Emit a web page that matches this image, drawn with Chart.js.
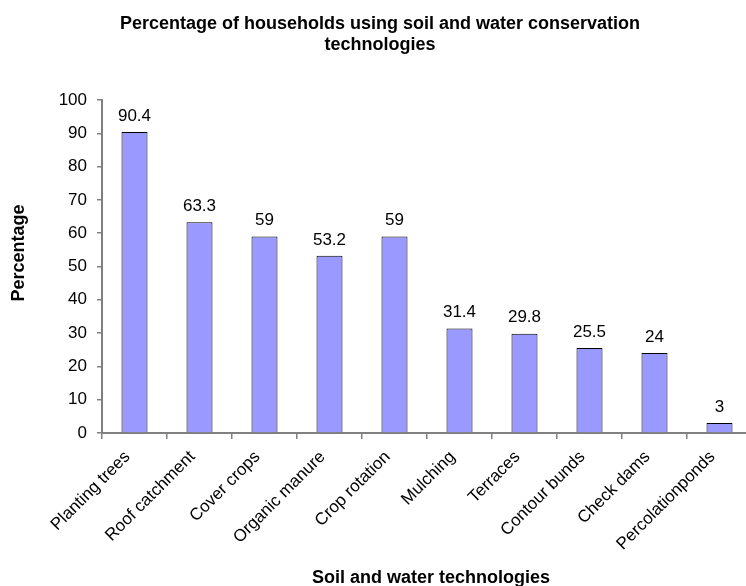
<!DOCTYPE html>
<html>
<head>
<meta charset="utf-8">
<script src="https://cdn.jsdelivr.net/npm/chart.js@4/dist/chart.umd.min.js"></script>
<style>
html,body{margin:0;padding:0;background:#fff;overflow:hidden;width:746px;height:586px;}
#wrap{width:746px;height:586px;overflow:hidden;}
canvas{display:block;}
</style>
</head>
<body>
<div id="wrap"><canvas id="c" width="752" height="586"></canvas></div>
<script>
const categories = ["Planting trees","Roof catchment","Cover crops","Organic manure","Crop rotation","Mulching","Terraces","Contour bunds","Check dams","Percolationponds"];
const values = [90.4, 63.3, 59, 53.2, 59, 31.4, 29.8, 25.5, 24, 3];
const valueLabels = ["90.4","63.3","59","53.2","59","31.4","29.8","25.5","24","3"];
const yTicks = [0,10,20,30,40,50,60,70,80,90,100];
const titleLines = ["Percentage of households using soil and water conservation", "technologies"];
const xTitle = "Soil and water technologies";
const yTitle = "Percentage";

const FONT = "'Liberation Sans', Arial, sans-serif";

const textPlugin = {
  id: 'textPlugin',
  afterDatasetsDraw(chart) {
    const ctx = chart.ctx;
    const meta = chart.getDatasetMeta(0);
    ctx.save();
    ctx.font = "17px " + FONT;
    ctx.fillStyle = "#000";
    ctx.textAlign = "center";
    ctx.textBaseline = "middle";
    meta.data.forEach((bar, i) => {
      ctx.fillText(valueLabels[i], bar.x, bar.y - 16);
    });
    ctx.restore();
  },
  afterDraw(chart) {
    const ctx = chart.ctx;
    ctx.save();
    ctx.fillStyle = "#000";
    ctx.textAlign = "center";
    ctx.textBaseline = "middle";
    ctx.font = "bold 18px " + FONT;
    titleLines.forEach((t, i) => ctx.fillText(t, 380, 24 + i * 21));
    ctx.fillText(xTitle, 431, 578);
    ctx.translate(19, 253);
    ctx.rotate(-Math.PI / 2);
    ctx.fillText(yTitle, 0, 0);
    ctx.restore();
  }
};

new Chart(document.getElementById('c'), {
  type: 'bar',
  data: {
    labels: categories,
    datasets: [{
      data: values,
      backgroundColor: '#9999FF',
      borderColor: '#000000',
      borderWidth: 1,
      categoryPercentage: 1,
      barPercentage: 0.4
    }]
  },
  options: {
    responsive: false,
    animation: false,
    devicePixelRatio: 1,
    layout: { padding: { left: 0, right: 0, top: 100, bottom: 0 } },
    plugins: {
      legend: { display: false },
      tooltip: { enabled: false },
      title: { display: false }
    },
    scales: {
      x: {
        border: { color: '#808080', width: 2 },
        grid: { drawOnChartArea: false, tickLength: 6, color: '#808080', lineWidth: 1.5, offset: true },
        ticks: {
          color: '#000',
          font: { family: FONT, size: 17 },
          maxRotation: 45, minRotation: 45,
          autoSkip: false,
          padding: 8,
          labelOffset: -7
        },
        afterFit(scale) { scale.height = 153; }
      },
      y: {
        min: 0, max: 100,
        border: { color: '#808080', width: 2 },
        grid: { drawOnChartArea: false, tickLength: 5, color: '#808080', lineWidth: 1.5 },
        afterBuildTicks(scale) { scale.ticks = yTicks.map(v => ({ value: v })); },
        ticks: {
          color: '#000',
          font: { family: FONT, size: 17 },
          padding: 10
        },
        afterFit(scale) { scale.width = 102; }
      }
    }
  },
  plugins: [textPlugin]
});
</script>
</body>
</html>
